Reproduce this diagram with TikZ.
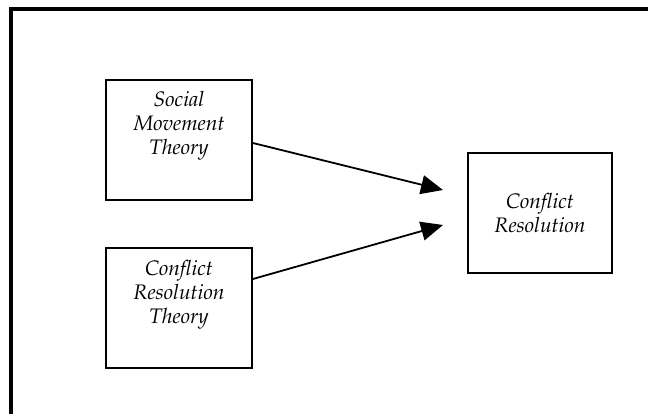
\documentclass[tikz,border=0pt]{standalone}
\usepackage[T1]{fontenc}
\usepackage{mathpazo}
\usetikzlibrary{arrows.meta}
\tikzset{
  frame/.style={line width=3.5pt, line join=miter},
  box/.style={draw, line width=1.8pt, minimum width=146pt, minimum height=120pt, inner sep=0pt},
  txt/.style={align=center, inner sep=0pt, font=\fontsize{21}{24}\selectfont\itshape},
  arr/.style={line width=1.8pt, -{Triangle[length=22pt,width=19pt]}}
}
\begin{document}
\begin{tikzpicture}[x=1pt,y=-1pt]
\useasboundingbox (0,0) rectangle (648,414);
\draw[frame] (11,414) -- (11,9) -- (648,9);
\node[box] (b1) at (179,140) {};
\node[txt] (l1) at ([yshift=14pt]b1.center) {Social\\Movement\\Theory};
\node[box] (b2) at (179,308) {};
\node[txt] (l2) at ([yshift=13pt]b2.center) {Conflict\\Resolution\\Theory};
\node[box, minimum width=144pt] (b3) at (540,213) {};
\node[txt] (l3) at (b3.center) {Conflict\\Resolution};
\coordinate (t1) at (443,190);
\coordinate (t2) at (443,225);
\draw[arr] ([yshift=-3pt]b1.east) -- (t1);
\draw[arr] ([yshift=29pt]b2.east) -- (t2);
\end{tikzpicture}
\end{document}
